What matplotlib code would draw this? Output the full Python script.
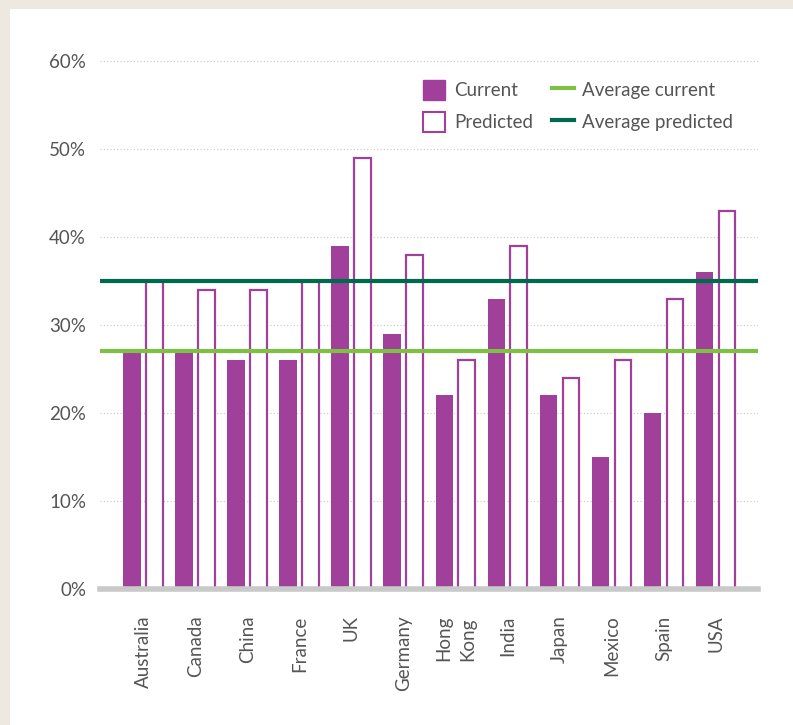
import numpy as np
import matplotlib
matplotlib.use('Agg')
import matplotlib.pyplot as plt
from matplotlib.patches import Rectangle, Patch
from matplotlib.lines import Line2D
from matplotlib.ticker import FuncFormatter

countries = ['Australia', 'Canada', 'China', 'France', 'UK', 'Germany',
             'Hong\nKong', 'India', 'Japan', 'Mexico', 'Spain', 'USA']
current = [27, 27, 26, 26, 39, 29, 22, 33, 22, 15, 20, 36]
predicted = [35, 34, 34, 35, 49, 38, 26, 39, 24, 26, 33, 43]
avg_current = 27
avg_predicted = 35

purple = '#A0409A'
light_green = '#7DC043'
dark_green = '#006A4E'
text_col = '#555555'

plt.rcParams['font.family'] = ['Lato', 'DejaVu Sans']

W, H = 793, 725
fig = plt.figure(figsize=(W / 100, H / 100), dpi=100, facecolor='#EDE9E1')
# white panel on the beige background
fig.patches.append(Rectangle((10 / W, 0), 1, 1 - 9 / H, transform=fig.transFigure,
                             facecolor='white', edgecolor='none', zorder=-10))

ax = fig.add_axes([100 / W, 1 - 589 / H, 658 / W, 528 / H])
ax.set_facecolor('none')

x = np.arange(len(countries))
w = 0.34
ax.bar(x - 0.215, np.array(current) / 100, w, color=purple, zorder=2)
ax.bar(x + 0.215, np.array(predicted) / 100, w - 0.02, facecolor='white',
       edgecolor=purple, linewidth=1.6, zorder=2)

ax.axhline(avg_current / 100, color=light_green, lw=3, zorder=3)
ax.axhline(avg_predicted / 100, color=dark_green, lw=3, zorder=3)

ax.set_xlim(-0.83, 11.81)
ax.set_ylim(0, 0.6)
ax.set_yticks(np.arange(0, 0.61, 0.1))
ax.yaxis.set_major_formatter(FuncFormatter(lambda v, p: '%d%%' % round(v * 100)))
ax.grid(axis='y', color='#C8C8C8', linestyle=(0, (1, 2)), lw=0.8, zorder=0)
ax.set_axisbelow(True)
ax.set_xticks(x)
ax.set_xticklabels(countries, rotation=90, va='top', ha='center',
                   multialignment='left', linespacing=1.5)
ax.tick_params(length=0, labelsize=13.5, colors=text_col, pad=10)
ax.tick_params(axis='x', pad=19)

for s in ['top', 'right', 'left']:
    ax.spines[s].set_visible(False)
ax.spines['bottom'].set_color('#C8C9C9')
ax.spines['bottom'].set_linewidth(4)
ax.spines['bottom'].set_zorder(4)

handles = [Patch(facecolor=purple, edgecolor=purple),
           Patch(facecolor='white', edgecolor=purple, linewidth=1.5),
           Line2D([], [], color=light_green, lw=3),
           Line2D([], [], color=dark_green, lw=3)]
labels = ['Current', 'Predicted', 'Average current', 'Average predicted']
fig.legend(handles, labels, ncol=2, loc='upper left',
           bbox_to_anchor=(406 / W, 1 - 63 / H), frameon=False,
           fontsize=13.5, labelcolor=text_col, handlelength=1.2,
           handleheight=1.3, handletextpad=0.45, columnspacing=1.0,
           labelspacing=0.6)

fig.savefig('out.png', dpi=100, facecolor=fig.get_facecolor())
